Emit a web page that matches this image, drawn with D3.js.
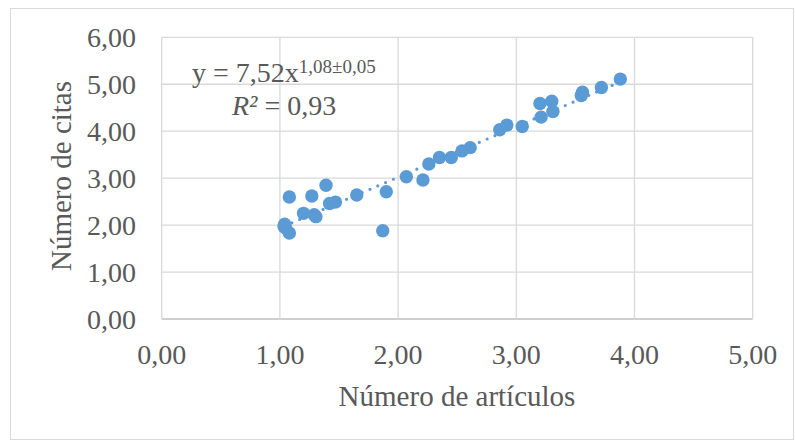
<!DOCTYPE html>
<html>
<head>
<meta charset="utf-8">
<script src="https://cdn.jsdelivr.net/npm/d3@7"></script>
<style>
  body { margin: 0; background: #fff; }
  text { font-family: "Liberation Serif", "Times New Roman", serif; fill: #595959; }
</style>
</head>
<body>
<svg id="chart" width="795" height="441"></svg>
<script>
// number of articles (x) vs number of citations (y), both in log scale
var articulos = [1.04, 1.035, 1.05, 1.08, 1.08, 1.20, 1.27, 1.29, 1.305, 1.39, 1.42, 1.47,
                 1.65, 1.87, 1.90, 2.07, 2.21, 2.26, 2.35, 2.45, 2.54, 2.61, 2.86, 2.92,
                 3.05, 3.20, 3.21, 3.30, 3.31, 3.55, 3.56, 3.72, 3.88];
var citas     = [2.02, 1.97, 1.93, 2.60, 1.83, 2.25, 2.62, 2.22, 2.18, 2.85, 2.46, 2.49,
                 2.64, 1.88, 2.71, 3.03, 2.96, 3.30, 3.44, 3.44, 3.58, 3.65, 4.03, 4.13,
                 4.10, 4.59, 4.30, 4.64, 4.42, 4.76, 4.83, 4.93, 5.11];
var xTicks = [0, 1, 2, 3, 4, 5];
var yTicks = [0, 1, 2, 3, 4, 5, 6];
// fitted trend (log-log): slope and intercept
var pendiente = 1.08, intercepto = 0.86;

var svg = d3.select("#chart");
var fmt = function(d){ return d3.format(".2f")(d).replace(".", ","); };

// chart frame
svg.append("rect")
    .attr("x", 10.5).attr("y", 8.5)
    .attr("width", 783).attr("height", 431)
    .attr("fill", "#fff").attr("stroke", "#d9d9d9");

var x = d3.scaleLinear().domain([0, 5]).range([161.7, 752.7]),
    y = d3.scaleLinear().domain([0, 6]).range([319, 37.3]);

var g = svg.append("g");

// gridlines
g.selectAll(".hgrid").data(yTicks).enter().append("line")
    .attr("x1", x(0)).attr("x2", x(5))
    .attr("y1", function(d){ return y(d); }).attr("y2", function(d){ return y(d); })
    .attr("stroke", function(d){ return d==0 ? "#bfbfbf" : "#d9d9d9"; })
    .attr("stroke-width", 1.3);
g.selectAll(".vgrid").data(xTicks).enter().append("line")
    .attr("y1", y(0)).attr("y2", y(6))
    .attr("x1", function(d){ return x(d); }).attr("x2", function(d){ return x(d); })
    .attr("stroke", "#d9d9d9")
    .attr("stroke-width", 1.3);

// tick labels
g.selectAll(".ylab").data(yTicks).enter().append("text")
    .attr("x", 136).attr("y", function(d){ return y(d); })
    .attr("dy", "0.35em")
    .attr("text-anchor", "end")
    .style("font-size", "28px")
    .text(fmt);
g.selectAll(".xlab").data(xTicks).enter().append("text")
    .attr("x", function(d){ return x(d); }).attr("y", 364)
    .attr("text-anchor", "middle")
    .style("font-size", "28px")
    .text(fmt);

// axis titles
svg.append("text")
    .attr("x", 457).attr("y", 406)
    .attr("text-anchor", "middle")
    .style("font-size", "29px")
    .text("Número de artículos");
svg.append("text")
    .attr("transform", "translate(71,176) rotate(-90)")
    .attr("text-anchor", "middle")
    .style("font-size", "29px")
    .text("Número de citas");

// trend line (dotted)
var x0 = d3.min(articulos), x1 = d3.max(articulos);
g.append("line")
    .attr("x1", x(x0)).attr("y1", y(intercepto + pendiente * x0))
    .attr("x2", x(x1)).attr("y2", y(intercepto + pendiente * x1))
    .attr("stroke", "#5b9bd5")
    .attr("stroke-width", 3.2)
    .attr("stroke-linecap", "round")
    .attr("stroke-dasharray", "0,8.5");

// points
g.selectAll(".pt").data(articulos).enter().append("circle")
    .attr("cx", function(d){ return x(d); })
    .attr("cy", function(d, i){ return y(citas[i]); })
    .attr("r", 6.7)
    .attr("fill", "#5b9bd5");

// equation
var eq = svg.append("text").attr("x", 192).attr("y", 82).style("font-size", "28px");
eq.append("tspan").text("y = 7,52x");
eq.append("tspan").attr("dy", -9).style("font-size", "19px").text("1,08±0,05");

var r2 = svg.append("text").attr("x", 232).attr("y", 115).style("font-size", "28px");
r2.append("tspan").style("font-style", "italic").text("R²");
r2.append("tspan").text(" = 0,93");
</script>
</body>
</html>
